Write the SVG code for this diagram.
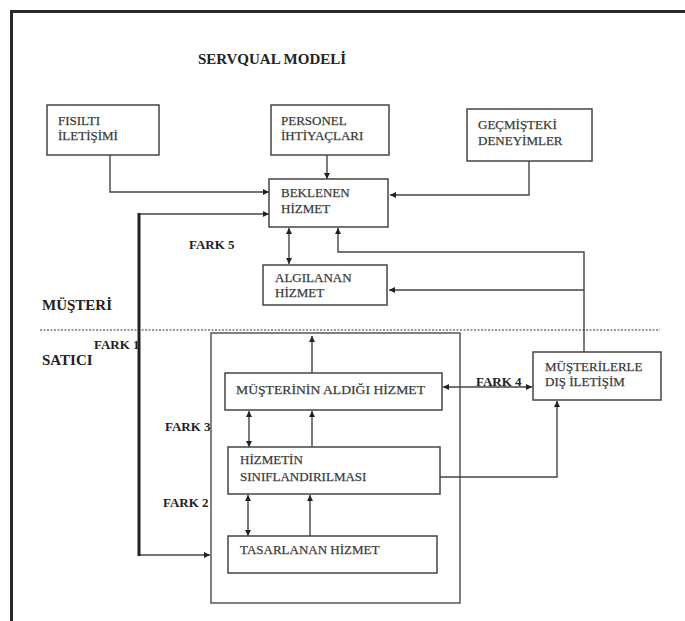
<svg xmlns="http://www.w3.org/2000/svg" width="685" height="621" viewBox="0 0 685 621">
<style>
.box{fill:#fff;stroke:#444;stroke-width:1.5}
.t{font-family:"Liberation Serif","Times New Roman",serif;font-size:13px;fill:#2e2e2e;stroke:#555;stroke-width:0.25}
.b{font-family:"Liberation Serif","Times New Roman",serif;font-weight:bold;fill:#222}
.c{fill:none;stroke:#444;stroke-width:1.4}
</style>
<defs>
<marker id="ah" markerUnits="userSpaceOnUse" markerWidth="7" markerHeight="7" refX="6" refY="3" orient="auto-start-reverse"><path d="M0,0 L6,3 L0,6 z" fill="#222"/></marker>
</defs>
<rect width="685" height="621" fill="#fff"/>
<path d="M685,11.5 H11.5 V621" fill="none" stroke="#2a2a2a" stroke-width="3"/>
<text class="b" x="272" y="64" font-size="15" text-anchor="middle">SERVQUAL MODELİ</text>
<text class="b" x="42" y="310" font-size="15">MÜŞTERİ</text>
<text class="b" x="42" y="365" font-size="15">SATICI</text>
<line x1="40" y1="330" x2="660" y2="330" stroke="#777" stroke-width="1.3" stroke-dasharray="2,1.5"/>
<rect id="satici-area" x="211" y="333" width="249" height="270" fill="none" stroke="#555" stroke-width="1.5"/>
<g id="connectors">
<path class="c" d="M110,155 V192 H269" marker-end="url(#ah)"/>
<path class="c" d="M327,155 V179" marker-end="url(#ah)"/>
<path class="c" d="M529,161 V195 H390" marker-end="url(#ah)"/>
<path class="c" d="M139,214 H269" marker-end="url(#ah)"/>
<path class="c" d="M139,555 H210" marker-end="url(#ah)"/>
<line x1="139" y1="213" x2="139" y2="556" stroke="#222" stroke-width="3"/>
<path class="c" d="M289,228 V264" marker-start="url(#ah)" marker-end="url(#ah)"/>
<path class="c" d="M584,352 V252 H338 V228" marker-end="url(#ah)"/>
<path class="c" d="M584,290 H389" marker-end="url(#ah)"/>
<path class="c" d="M312,373 V336" marker-end="url(#ah)"/>
<path class="c" d="M532,387 H443" marker-start="url(#ah)" marker-end="url(#ah)"/>
<path class="c" d="M440,477 H557 V401" marker-end="url(#ah)"/>
<path class="c" d="M249,411 V447" marker-start="url(#ah)" marker-end="url(#ah)"/>
<path class="c" d="M312,447 V411" marker-end="url(#ah)"/>
<path class="c" d="M248,495 V536" marker-start="url(#ah)" marker-end="url(#ah)"/>
<path class="c" d="M310,536 V495" marker-end="url(#ah)"/>
</g>
<g id="fisilti"><rect class="box" x="47" y="105" width="112" height="50"/><text class="t" x="58" y="125">FISILTI</text><text class="t" x="58" y="140">İLETİŞİMİ</text></g>
<g id="personel"><rect class="box" x="271" y="105" width="118" height="50"/><text class="t" x="281" y="125">PERSONEL</text><text class="t" x="281" y="140">İHTİYAÇLARI</text></g>
<g id="gecmis"><rect class="box" x="467" y="109" width="125" height="52"/><text class="t" x="478" y="129">GEÇMİŞTEKİ</text><text class="t" x="478" y="145">DENEYİMLER</text></g>
<g id="beklenen"><rect class="box" x="269" y="179" width="119" height="48"/><text class="t" x="281" y="197">BEKLENEN</text><text class="t" x="281" y="213">HİZMET</text></g>
<g id="algilanan"><rect class="box" x="263" y="265" width="124" height="40"/><text class="t" x="275" y="282">ALGILANAN</text><text class="t" x="275" y="297">HİZMET</text></g>
<g id="disiletisim"><rect class="box" x="533" y="352" width="128" height="48"/><text class="t" x="545" y="371">MÜŞTERİLERLE</text><text class="t" x="545" y="386">DIŞ İLETİŞİM</text></g>
<g id="aldigi"><rect class="box" x="225" y="373" width="217" height="37"/><text class="t" x="236" y="394" textLength="189" lengthAdjust="spacingAndGlyphs">MÜŞTERİNİN ALDIĞI HİZMET</text></g>
<g id="siniflandirma"><rect class="box" x="228" y="447" width="212" height="47"/><text class="t" x="240" y="464">HİZMETİN</text><text class="t" x="240" y="481">SINIFLANDIRILMASI</text></g>
<g id="tasarlanan"><rect class="box" x="228" y="536" width="209" height="37"/><text class="t" x="240" y="554">TASARLANAN HİZMET</text></g>
<g id="labels">
<text class="b" x="189" y="249" font-size="13">FARK 5</text>
<text class="b" x="94" y="349" font-size="13">FARK 1</text>
<text class="b" x="165" y="431" font-size="13">FARK 3</text>
<text class="b" x="163" y="507" font-size="13">FARK 2</text>
<text class="b" x="476" y="386" font-size="13">FARK 4</text>
</g>
</svg>
